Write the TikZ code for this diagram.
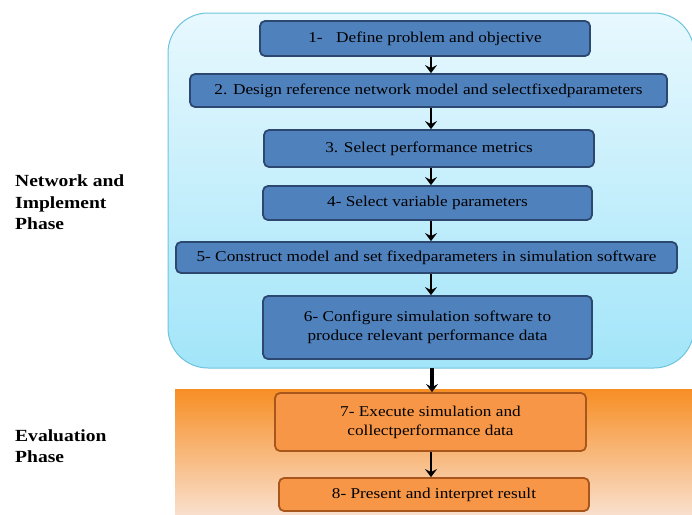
\documentclass[tikz,border=0pt]{standalone}
\usepackage{fontspec}
\setmainfont[FakeStretch=1.15]{Liberation Serif}
\usetikzlibrary{arrows.meta}
\definecolor{bcol}{HTML}{4F81BD}
\definecolor{bdcol}{HTML}{2C4870}
\definecolor{ocol}{HTML}{F79646}
\definecolor{odcol}{HTML}{A8561C}
\definecolor{ltop}{HTML}{E8F8FE}
\definecolor{lbot}{HTML}{A2E5F9}
\definecolor{lline}{HTML}{6FC4DD}
\definecolor{otop}{HTML}{F78E24}
\definecolor{obot}{HTML}{F9DFCC}

\begin{document}
\begin{tikzpicture}[x=1pt, y=-1pt,
  bluebox/.style={draw=bdcol, fill=bcol, line width=1.8pt, rounded corners=5pt,
    align=center, inner sep=0pt, font=\fontsize{15}{19}\selectfont},
  orangebox/.style={bluebox, draw=odcol, fill=ocol},
  flow/.style={-{Stealth[length=8pt, width=12pt, inset=3pt]}, line width=2.8pt},
  phase/.style={font=\bfseries\fontsize{17}{21}\selectfont, align=left,
    anchor=north west, inner sep=0pt}]
\useasboundingbox (0,0) rectangle (692,514);
\clip (0,0) rectangle (692,514);
% phase backgrounds
\draw[lline, line width=1pt, top color=ltop, bottom color=lbot, rounded corners=40pt]
  (168,13) rectangle (694,368);
\shade[top color=otop, bottom color=obot] (175,389) rectangle (700,514);
% steps
\node[bluebox, minimum width=330, minimum height=35] (s1) at (425,38.5)
  {1-\hspace{0.9em}Define problem and objective};
\node[bluebox, minimum width=477, minimum height=33] (s2) at (428.5,90.5)
  {2. Design reference network model and selectfixedparameters};
\node[bluebox, minimum width=330, minimum height=37] (s3) at (429,148.5)
  {3. Select performance metrics};
\node[bluebox, minimum width=329, minimum height=34] (s4) at (427.5,203)
  {4- Select variable parameters};
\node[bluebox, minimum width=501, minimum height=31] (s5) at (426.5,257.5)
  {5- Construct model and set fixedparameters in simulation software};
\node[bluebox, minimum width=329, minimum height=63] (s6) at (427.5,327.5)
  {6- Configure simulation software to\\produce relevant performance data};
\node[orangebox, minimum width=311, minimum height=58] (s7) at (430.5,422)
  {7- Execute simulation and\\collectperformance data};
\node[orangebox, minimum width=310, minimum height=33] (s8) at (434,494.5)
  {8- Present and interpret result};
% phase labels
\node[phase] (netlbl) at (15,175) {Network and\\Implement\\Phase};
\node[phase] (evallbl) at (15,429) {Evaluation\\Phase};
% arrows
\coordinate (axis) at (431,0);
\coordinate (netbot) at (432,368);
\draw[flow] (s1.south -| axis) -- (s2.north -| axis);
\draw[flow] (s2.south -| axis) -- (s3.north -| axis);
\draw[flow] (s3.south -| axis) -- (s4.north -| axis);
\draw[flow] (s4.south -| axis) -- (s5.north -| axis);
\draw[flow] (s5.south -| axis) -- (s6.north -| axis);
\draw[flow, line width=3.4pt] (netbot) -- (s7.north -| netbot);
\draw[flow] (s7.south -| axis) -- (s8.north -| axis);
\end{tikzpicture}
\end{document}
